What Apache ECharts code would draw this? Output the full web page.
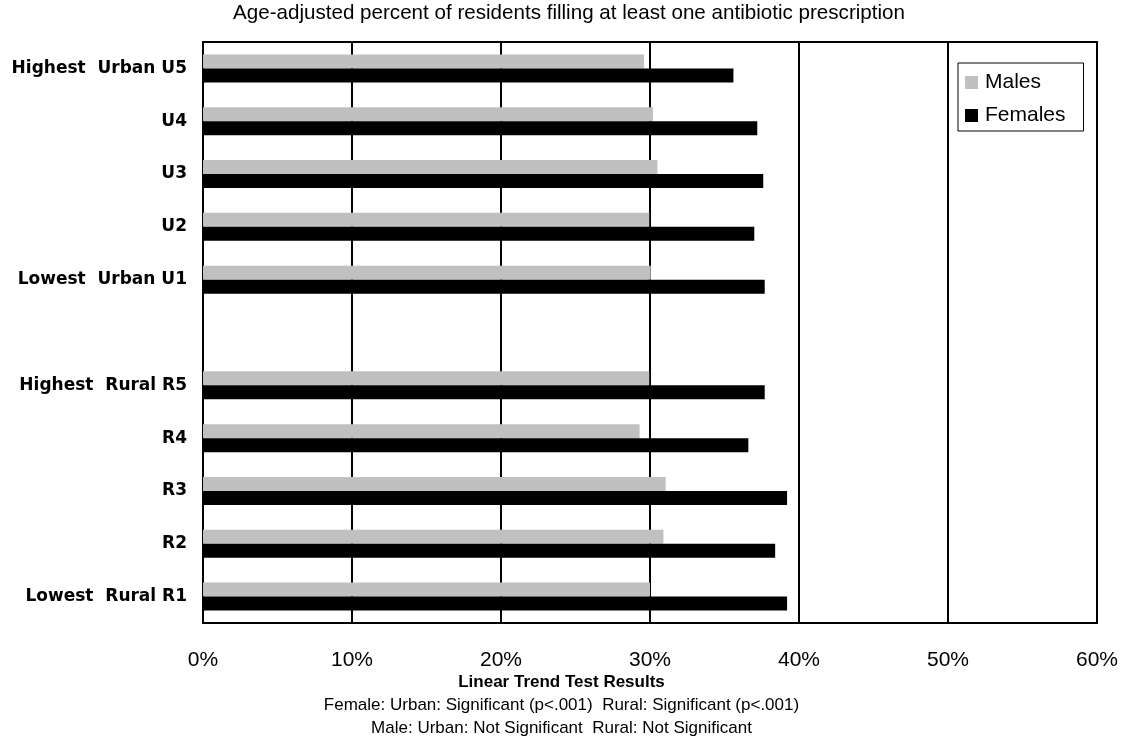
<!DOCTYPE html>
<html><head><meta charset="utf-8">
<script src="https://cdn.jsdelivr.net/npm/echarts@6/dist/echarts.min.js"></script>
<style>html,body{margin:0;padding:0;background:#fff}#c{width:1123px;height:740px}</style>
</head><body><div id="c"></div>
<script>
const categories = ['Highest  Urban U5','U4','U3','U2','Lowest  Urban U1','','Highest  Rural R5','R4','R3','R2','Lowest  Rural R1'];
const males   = [29.6, 30.2, 30.5, 29.95, 30.05, '-', 29.95, 29.3, 31.05, 30.9, 30.0];
const females = [35.6, 37.2, 37.6, 37.0, 37.7, '-', 37.7, 36.6, 39.2, 38.4, 39.2];
const xTicks = [0, 10, 20, 30, 40, 50, 60];
const subtitle = 'Age-adjusted percent of residents filling at least one antibiotic prescription';
const footTitle = 'Linear Trend Test Results';
const footLines = ['Female: Urban: Significant (p<.001)  Rural: Significant (p<.001)', 'Male: Urban: Not Significant  Rural: Not Significant'];

const FONT = 'Liberation Sans, Arial, sans-serif';
const BOLDFONT = 'DejaVu Sans, Liberation Sans, sans-serif';
const chart = echarts.init(document.getElementById('c'), null, {renderer: 'canvas'});
chart.setOption({
  animation: false,
  backgroundColor: '#fff',
  textStyle: {fontFamily: FONT, color: '#000'},
  grid: {left: 203, right: 26, top: 42, bottom: 117, show: true, borderColor: '#000', borderWidth: 2, backgroundColor: 'transparent'},
  legend: {
    orient: 'vertical', left: 958, top: 63,
    data: ['Males', 'Females'], icon: 'rect', itemWidth: 13, itemHeight: 13, itemGap: 12,
    padding: [9, 18, 5, 7], borderColor: '#000', borderWidth: 1,
    textStyle: {fontSize: 21, color: '#000', fontFamily: FONT, padding: [0, 0, 0, 2]}
  },
  xAxis: {
    type: 'value', min: xTicks[0], max: xTicks[xTicks.length - 1], interval: 10,
    axisLine: {show: false}, axisTick: {show: false},
    splitLine: {show: true, lineStyle: {color: '#000', width: 2}},
    axisLabel: {formatter: '{value}%', fontSize: 21, color: '#000', margin: 27, fontFamily: FONT}
  },
  yAxis: {
    type: 'category', inverse: true, data: categories,
    axisLine: {show: true, lineStyle: {color: '#000', width: 2}}, axisTick: {show: false},
    axisLabel: {fontSize: 17, fontWeight: 'bold', color: '#000', margin: 16, fontFamily: BOLDFONT}
  },
  series: [
    {name: 'Males', type: 'bar', data: males, barWidth: 14, barGap: '0%', itemStyle: {color: '#c0c0c0'}},
    {name: 'Females', type: 'bar', data: females, barWidth: 14, barGap: '0%', itemStyle: {color: '#000'}}
  ],
  graphic: [
    {type: 'text', left: 233, top: 3, style: {text: subtitle, font: '20.6px ' + FONT, fill: '#000'}},
    {type: 'text', left: 'center', top: 674, style: {text: footTitle, font: 'bold 17px ' + FONT, fill: '#000'}},
    {type: 'text', left: 'center', top: 697, style: {text: footLines[0], font: '17px ' + FONT, fill: '#000'}},
    {type: 'text', left: 'center', top: 720, style: {text: footLines[1], font: '17px ' + FONT, fill: '#000'}}
  ]
});
</script></body></html>
